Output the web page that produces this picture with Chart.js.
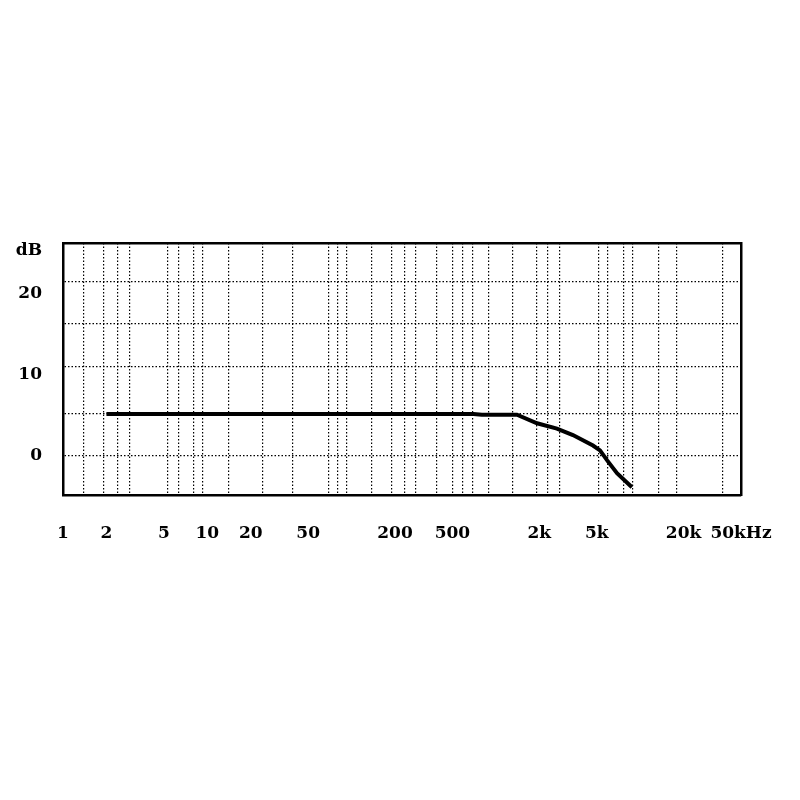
<!DOCTYPE html>
<html>
<head>
<meta charset="utf-8">
<script src="https://cdn.jsdelivr.net/npm/chart.js@4.4.1/dist/chart.umd.min.js"></script>
<style>
  html, body { margin: 0; padding: 0; background: #fff; }
  #wrap { width: 800px; height: 800px; }
</style>
</head>
<body>
<div id="wrap"><canvas id="freqChart" width="800" height="800"></canvas></div>
<script>
// response curve
var freqHz = [2, 700, 800, 1400, 1930, 2650, 3420, 4710, 5270, 5890, 6910, 8770];
var gainDb = [5.1, 5.1, 5.0, 5.0, 3.95, 3.3, 2.5, 1.2, 0.6, -0.6, -2.2, -3.95];

// x axis labels
var xLabelValues = [1, 2, 5, 10, 20, 50, 200, 500, 2000, 5000, 20000, 50000];
var xLabelTexts = ['1', '2', '5', '10', '20', '50', '200', '500', '2k', '5k', '20k', '50kHz'];
// vertical grid lines (uneven on the original paper)
var xGridValues = [1.4, 1.9, 2.4, 2.9, 5.3, 6.3, 8, 9.3, 14, 24, 39, 69, 80, 93, 138, 188, 234, 279,
  391, 505, 592, 694, 896, 1313, 1930, 2300, 2780, 5180, 5980, 7720, 8920, 13500, 18000, 37500];

// y axis labels + horizontal grid
var yLabelValues = [0, 10, 20, 25.3];
var yLabelTexts = ['0', '10', '20', 'dB'];
var yGridValues = [0, 5.2, 10.9, 16.3, 21.4];
var yMin = -4.9, yMax = 26.2;

function mergeTicks(a, b) {
    var all = a.concat(b);
    return all.filter(function (v, i) { return all.indexOf(v) === i; })
              .sort(function (p, q) { return p - q; });
}
var xTicks = mergeTicks(xLabelValues, xGridValues);
var yTicks = mergeTicks(yLabelValues, yGridValues);

var points = freqHz.map(function (f, i) { return { x: f, y: gainDb[i] }; });

var labelFont = { family: 'DejaVu Serif', weight: 'bold', size: 17 };
var dots = [1.5, 2];

new Chart(document.getElementById('freqChart'), {
    type: 'line',
    data: {
        datasets: [{
            data: points,
            borderColor: '#000',
            borderWidth: 4,
            pointRadius: 0,
            tension: 0,
            fill: false
        }]
    },
    options: {
        responsive: false,
        animation: false,
        devicePixelRatio: 1,
        layout: { padding: { top: 243, left: 0, right: 59, bottom: 245 } },
        plugins: { legend: { display: false }, tooltip: { enabled: false } },
        scales: {
            x: {
                type: 'logarithmic',
                position: 'bottom',
                min: 1,
                max: 50000,
                afterBuildTicks: function (scale) {
                    scale.ticks = xTicks.map(function (v) { return { value: v }; });
                },
                afterFit: function (scale) { scale.height = 60; },
                grid: {
                    drawTicks: false,
                    lineWidth: 1.2,
                    color: function (ctx) {
                        return ctx.tick && xGridValues.indexOf(ctx.tick.value) >= 0 ? '#000' : 'rgba(0,0,0,0)';
                    }
                },
                border: { display: true, color: '#000', width: 2.5, dash: dots },
                ticks: {
                    autoSkip: false,
                    maxRotation: 0,
                    padding: 28,
                    color: '#000',
                    font: labelFont,
                    callback: function (v) {
                        var i = xLabelValues.indexOf(v);
                        return i >= 0 ? xLabelTexts[i] : '';
                    }
                }
            },
            y: {
                type: 'linear',
                position: 'left',
                min: yMin,
                max: yMax,
                afterBuildTicks: function (scale) {
                    scale.ticks = yTicks.map(function (v) { return { value: v }; });
                },
                afterFit: function (scale) { scale.width = 63; },
                grid: {
                    drawTicks: false,
                    lineWidth: 1.2,
                    color: function (ctx) {
                        return ctx.tick && yGridValues.indexOf(ctx.tick.value) >= 0 ? '#000' : 'rgba(0,0,0,0)';
                    }
                },
                border: { display: true, color: '#000', width: 2.5, dash: dots },
                ticks: {
                    padding: 21,
                    color: '#000',
                    font: labelFont,
                    callback: function (v) {
                        var i = yLabelValues.indexOf(v);
                        return i >= 0 ? yLabelTexts[i] : '';
                    }
                }
            },
            // top and right edges of the frame
            x2: {
                type: 'linear',
                position: 'top',
                grid: { display: false },
                ticks: { display: false },
                border: { display: true, color: '#000', width: 2.5 },
                afterFit: function (scale) { scale.height = 0; }
            },
            y2: {
                type: 'linear',
                position: 'right',
                grid: { display: false },
                ticks: { display: false },
                border: { display: true, color: '#000', width: 2.5 },
                afterFit: function (scale) { scale.width = 0; }
            }
        }
    }
});
</script>
</body>
</html>
